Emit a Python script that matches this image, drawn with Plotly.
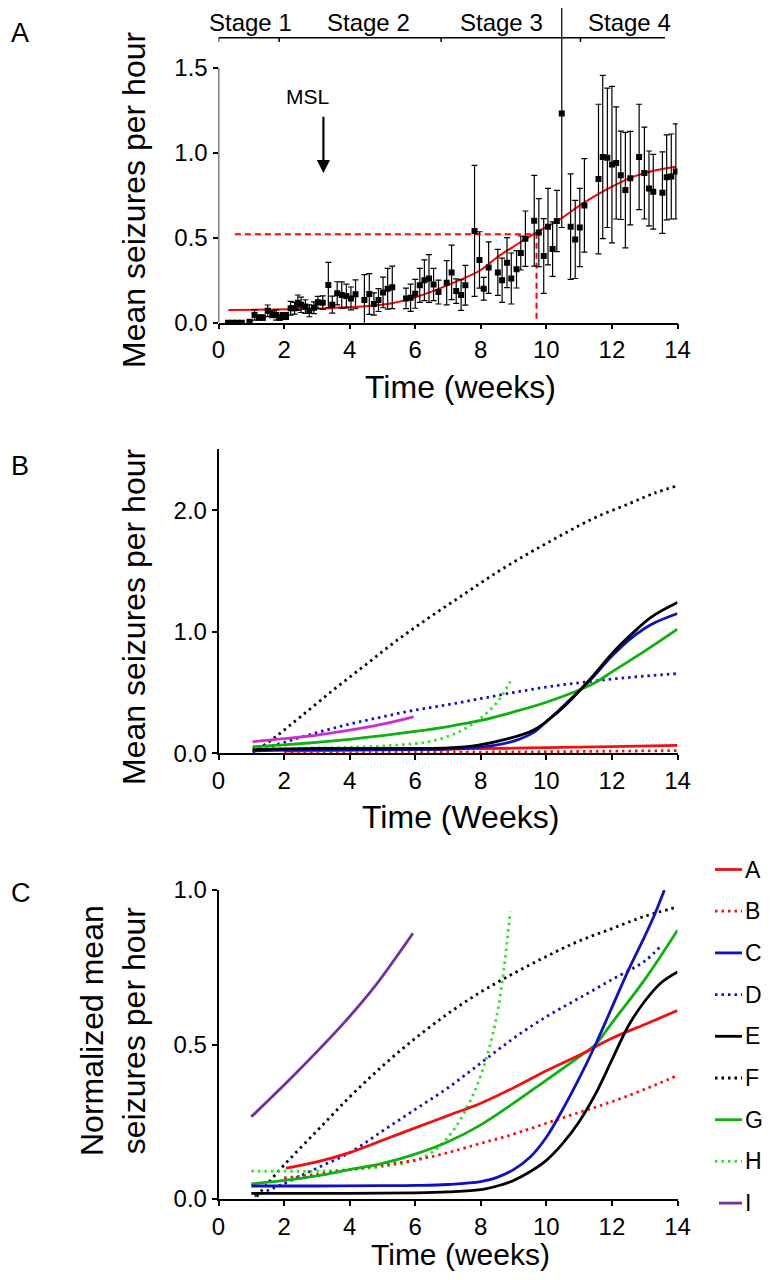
import plotly.graph_objects as go

OFF = 8                 # page offset of the figure inside the browser window
FW, FH = 772 - 2 * OFF, 1280 - 2 * OFF
FONT = "Liberation Sans, Arial, sans-serif"

# ---------------- Panel A data ----------------
a_weeks = [0.29, 0.43, 0.57, 0.71, 0.95, 1.10, 1.23, 1.35, 1.50, 1.64, 1.76, 1.87, 1.96, 2.06,
           2.20, 2.32, 2.42, 2.52, 2.65, 2.77, 2.91, 3.03, 3.18, 3.35, 3.47, 3.62, 3.76, 3.90,
           4.04, 4.18, 4.45, 4.60, 4.74, 4.88, 5.02, 5.16, 5.30, 5.72, 5.86, 6.00, 6.14, 6.28,
           6.42, 6.56, 6.71, 6.96, 7.11, 7.25, 7.40, 7.53, 7.81, 7.96, 8.09, 8.24, 8.52, 8.65,
           8.80, 8.93, 9.09, 9.22, 9.36, 9.63, 9.77, 9.92, 10.05, 10.19, 10.32, 10.47, 10.74,
           10.88, 11.02, 11.16, 11.59, 11.72, 11.86, 12.00, 12.13, 12.27, 12.41, 12.56, 12.83,
           12.99, 13.13, 13.26, 13.54, 13.67, 13.81, 13.95]
a_mean = [0, 0, 0, 0, 0.006, 0.045, 0.03, 0.03, 0.07, 0.05, 0.045, 0.03, 0.04, 0.04,
          0.085, 0.085, 0.118, 0.105, 0.095, 0.07, 0.088, 0.12, 0.118, 0.222, 0.106, 0.173, 0.163, 0.157,
          0.143, 0.167, 0.133, 0.169, 0.11, 0.133, 0.178, 0.2, 0.208, 0.143, 0.147, 0.17, 0.22, 0.25,
          0.26, 0.225, 0.18, 0.235, 0.296, 0.186, 0.163, 0.22, 0.54, 0.369, 0.2, 0.324, 0.296, 0.25,
          0.353, 0.26, 0.314, 0.41, 0.494, 0.6, 0.53, 0.392, 0.565, 0.433, 0.598, 1.23, 0.565,
          0.49, 0.56, 0.69, 0.845, 0.975, 0.97, 0.93, 0.94, 0.867, 0.78, 0.85, 0.975,
          0.88, 0.79, 0.77, 0.765, 0.855, 0.86, 0.89]
a_sem = [0, 0, 0, 0, 0.005, 0.03, 0.015, 0.015, 0.034, 0.02, 0.03, 0.015, 0.02, 0.02,
         0.04, 0.035, 0.045, 0.045, 0.04, 0.035, 0.035, 0.035, 0.04, 0.133, 0.05, 0.068, 0.077, 0.07,
         0.067, 0.085, 0.15, 0.12, 0.065, 0.067, 0.09, 0.12, 0.125, 0.06, 0.08, 0.085, 0.1, 0.12,
         0.14, 0.095, 0.07, 0.13, 0.16, 0.072, 0.09, 0.117, 0.385, 0.166, 0.067, 0.152, 0.135, 0.13,
         0.147, 0.15, 0.11, 0.1, 0.163, 0.267, 0.2, 0.22, 0.225, 0.16, 0.18, 0.67, 0.31,
         0.23, 0.23, 0.275, 0.44, 0.48, 0.41, 0.46, 0.33, 0.26, 0.34, 0.275, 0.31,
         0.27, 0.22, 0.22, 0.24, 0.25, 0.25, 0.28]
a_fit_weeks = [0.3, 1.5, 2.5, 3.5, 4.5, 5.3, 5.9, 6.6, 7.35, 8.0, 8.5, 9.1, 9.65, 10.35, 11.1,
               11.8, 12.6, 13.3, 13.95]
a_fit_value = [0.075, 0.077, 0.08, 0.087, 0.097, 0.115, 0.143, 0.19, 0.25, 0.31, 0.385, 0.46,
               0.525, 0.60, 0.70, 0.78, 0.855, 0.895, 0.918]
msl_level = 0.52
msl_week = 9.7
msl_start = 0.5
stage_names = ["Stage 1", "Stage 2", "Stage 3", "Stage 4"]
stage_bounds = [0, 1.85, 6.79, 11.04]
stage_end = 13.62
stage_label_x = [0.98, 4.58, 8.63, 12.53]

# ---------------- Panel B data ----------------
b_A_x = [2, 4, 6, 8, 10, 12, 14]
b_A_y = [0.018, 0.024, 0.031, 0.038, 0.046, 0.055, 0.065]
b_B_x = [2, 6, 10, 14]
b_B_y = [0.004, 0.008, 0.013, 0.022]
b_C_x = [1.04, 3, 5, 7, 8, 9, 9.6, 10, 10.6, 11.4, 12, 12.6, 13.2, 14]
b_C_y = [0.02, 0.03, 0.03, 0.035, 0.05, 0.1, 0.17, 0.26, 0.41, 0.62, 0.80, 0.95, 1.06, 1.15]
b_D_x = [1.04, 1.5, 2, 3, 4, 5, 6, 7, 8, 9, 10, 11, 12, 13, 14]
b_D_y = [0.01, 0.05, 0.09, 0.17, 0.24, 0.30, 0.355, 0.40, 0.45, 0.50, 0.545, 0.58, 0.61, 0.635, 0.655]
b_E_x = [1.04, 3, 5, 7, 7.93, 8.84, 9.6, 10.04, 10.64, 11.4, 12.0, 12.6, 13.2, 14.0]
b_E_y = [0.03, 0.04, 0.04, 0.045, 0.068, 0.12, 0.19, 0.27, 0.41, 0.63, 0.82, 0.98, 1.12, 1.24]
b_F_x = [1.2, 1.76, 2.5, 3.5, 4.5, 5.5, 6.5, 7.5, 8.5, 9.5, 10.5, 11.5, 12.5, 13.3, 14.0]
b_F_y = [0.03, 0.14, 0.30, 0.52, 0.73, 0.94, 1.13, 1.31, 1.49, 1.65, 1.80, 1.94, 2.05, 2.14, 2.2]
b_G_x = [1.04, 2, 3, 4, 5, 6, 7, 8, 9, 10, 11, 11.55, 12, 13, 14]
b_G_y = [0.055, 0.07, 0.09, 0.115, 0.145, 0.18, 0.22, 0.27, 0.34, 0.42, 0.52, 0.59, 0.67, 0.84, 1.02]
b_H_x = [1.04, 2, 3, 4, 5, 6, 6.5, 7, 7.5, 8, 8.5, 8.9]
b_H_y = [0.04, 0.04, 0.045, 0.05, 0.06, 0.08, 0.1, 0.14, 0.2, 0.29, 0.42, 0.59]
b_I_x = [1.04, 2, 3, 4, 5, 5.95]
b_I_y = [0.095, 0.12, 0.15, 0.19, 0.24, 0.3]

# ---------------- Panel C data ----------------
c_A_x = [2.06, 3, 4, 5, 6, 7, 8, 9, 10, 11, 12, 13, 14]
c_A_y = [0.10, 0.12, 0.15, 0.19, 0.23, 0.27, 0.31, 0.36, 0.415, 0.465, 0.52, 0.565, 0.61]
c_B_x = [2, 3, 4, 5, 6, 7, 8, 9, 10, 11, 12, 13, 14]
c_B_y = [0.068, 0.08, 0.095, 0.11, 0.126, 0.15, 0.18, 0.21, 0.245, 0.28, 0.315, 0.355, 0.40]
c_C_x = [1.0, 3, 5, 6, 7, 8, 8.5, 9, 9.5, 10, 10.5, 11, 11.5, 12, 12.5, 13, 13.3, 13.6]
c_C_y = [0.042, 0.042, 0.043, 0.044, 0.047, 0.056, 0.07, 0.095, 0.135, 0.2, 0.29, 0.39, 0.5, 0.62,
         0.74, 0.85, 0.92, 1.0]
c_D_x = [1.1, 2, 3, 4, 5, 6, 7, 8, 9, 10, 11, 12, 13, 13.5]
c_D_y = [0.01, 0.05, 0.1, 0.15, 0.22, 0.29, 0.36, 0.44, 0.52, 0.59, 0.65, 0.71, 0.77, 0.82]
c_E_x = [1.0, 4, 6, 7, 8, 8.5, 9, 9.5, 10, 10.5, 11, 11.5, 12, 12.5, 13, 13.5, 14]
c_E_y = [0.018, 0.018, 0.02, 0.023, 0.03, 0.042, 0.06, 0.088, 0.125, 0.18, 0.25, 0.34, 0.45, 0.56,
         0.64, 0.70, 0.735]
c_F_x = [1.16, 1.5, 2, 3, 4, 5, 6, 7, 8, 9, 10, 11, 12, 13, 14]
c_F_y = [0.008, 0.05, 0.11, 0.22, 0.33, 0.43, 0.52, 0.6, 0.67, 0.73, 0.785, 0.835, 0.875, 0.915, 0.945]
c_G_x = [1.0, 2, 3, 4, 5, 6, 7, 8, 9, 10, 11, 11.5, 12, 13, 14]
c_G_y = [0.049, 0.06, 0.075, 0.095, 0.115, 0.145, 0.185, 0.24, 0.31, 0.385, 0.46, 0.5, 0.57, 0.71, 0.87]
c_H_x = [1.0, 2, 3, 4, 5, 6, 6.5, 7, 7.5, 8, 8.5, 8.9]
c_H_y = [0.09, 0.09, 0.09, 0.095, 0.105, 0.125, 0.15, 0.2, 0.28, 0.4, 0.6, 0.93]
c_I_x = [1.0, 2.36, 3.86, 4.76, 5.93]
c_I_y = [0.266, 0.407, 0.574, 0.687, 0.86]

legend_names = ["A", "B", "C", "D", "E", "F", "G", "H", "I"]

RED = "#f01010"
BLUE = "#1010c0"
GREEN = "#10b010"
LGREEN = "#30e030"
PURPLE = "#7030a0"
MAGENTA = "#cc30cc"
BLACK = "#000000"
DOT = "2.5px,4px"

styles_B = {
    "A": (RED, "solid"), "B": (RED, DOT), "C": (BLUE, "solid"), "D": (BLUE, DOT),
    "E": (BLACK, "solid"), "F": (BLACK, DOT), "G": (GREEN, "solid"), "H": (LGREEN, DOT),
    "I": (MAGENTA, "solid"),
}
styles_C = dict(styles_B)
styles_C["I"] = (PURPLE, "solid")

def px_x(p):
    return (p - OFF) / FW

def px_y(p):
    return 1 - (p - OFF) / FH

fig = go.Figure()

# Panel A
fig.add_trace(go.Scatter(
    x=a_fit_weeks, y=a_fit_value, mode="lines", line=dict(color="#ff0000", width=2, shape="spline"),
    xaxis="x", yaxis="y", showlegend=False))
fig.add_trace(go.Scatter(
    x=[msl_start, msl_week, msl_week], y=[msl_level, msl_level, 0], mode="lines",
    line=dict(color="#ff0000", width=2, dash="6px,4px"), xaxis="x", yaxis="y", showlegend=False))
fig.add_trace(go.Scatter(
    x=a_weeks, y=a_mean, mode="markers",
    marker=dict(symbol="square", size=6, color="black"),
    error_y=dict(type="data", array=a_sem, visible=True, color="black", thickness=1.2, width=3),
    xaxis="x", yaxis="y", showlegend=False))

# Panel B
b_series = {"A": (b_A_x, b_A_y), "B": (b_B_x, b_B_y), "C": (b_C_x, b_C_y), "D": (b_D_x, b_D_y),
            "E": (b_E_x, b_E_y), "F": (b_F_x, b_F_y), "G": (b_G_x, b_G_y), "H": (b_H_x, b_H_y),
            "I": (b_I_x, b_I_y)}
order_B = ["F", "D", "H", "I", "G", "A", "B", "C", "E"]
for k in order_B:
    xs, ys = b_series[k]
    col, dash = styles_B[k]
    fig.add_trace(go.Scatter(x=xs, y=ys, mode="lines",
                             line=dict(color=col, width=2.8, dash=dash, shape="spline"),
                             xaxis="x2", yaxis="y2", showlegend=False))

# Panel C
c_series = {"A": (c_A_x, c_A_y), "B": (c_B_x, c_B_y), "C": (c_C_x, c_C_y), "D": (c_D_x, c_D_y),
            "E": (c_E_x, c_E_y), "F": (c_F_x, c_F_y), "G": (c_G_x, c_G_y), "H": (c_H_x, c_H_y),
            "I": (c_I_x, c_I_y)}
order_C = ["F", "D", "H", "B", "I", "G", "A", "E", "C"]
for k in order_C:
    xs, ys = c_series[k]
    col, dash = styles_C[k]
    fig.add_trace(go.Scatter(x=xs, y=ys, mode="lines",
                             line=dict(color=col, width=2.8, dash=dash, shape="spline"),
                             xaxis="x3", yaxis="y3", showlegend=False))

xdom = [px_x(218.5), px_x(677.5)]
axis_common = dict(showline=True, linecolor="black", linewidth=1.5, ticks="outside", ticklen=5,
                   tickwidth=1.5, tickcolor="black", showgrid=False, zeroline=False,
                   automargin=False,
                   tickfont=dict(family=FONT, size=24, color="black"))
xticks = dict(tickmode="array", tickvals=list(range(0, 15, 2)), ticktext=[str(v) for v in range(0, 15, 2)])

shapes = []
annotations = []

A_ZERO = 322.7        # reference pixel row of y=0 in panel A
A_PX_PER_UNIT = 170.0
a_top = (A_ZERO - OFF) / A_PX_PER_UNIT

# Panel A y axis line (only up to 1.5)
shapes.append(dict(type="line", xref="x", yref="y", x0=0, x1=0, y0=0, y1=1.5,
                   line=dict(color="black", width=1.5)))
# stage bar
stage_y = 1.676
shapes.append(dict(type="line", xref="x", yref="y", x0=stage_bounds[0], x1=stage_end,
                   y0=stage_y, y1=stage_y, line=dict(color="black", width=1.5)))
for b in stage_bounds:
    shapes.append(dict(type="line", xref="x", yref="y", x0=b, x1=b, y0=stage_y, y1=stage_y - 0.025,
                       line=dict(color="black", width=1.5)))
for name, sx in zip(stage_names, stage_label_x):
    annotations.append(dict(x=sx, y=1.765, xref="x", yref="y", text=name, showarrow=False,
                            xanchor="center", yanchor="middle",
                            font=dict(family=FONT, size=24, color="black")))
# MSL arrow
annotations.append(dict(x=2.71, y=1.33, xref="x", yref="y", text="MSL", showarrow=False,
                        xanchor="center", yanchor="middle",
                        font=dict(family=FONT, size=21, color="black")))
annotations.append(dict(x=3.2, y=0.88, ax=3.2, ay=1.22, xref="x", yref="y", axref="x", ayref="y",
                        text="", showarrow=True, arrowhead=2, arrowsize=1.2, arrowwidth=2.2,
                        arrowcolor="black"))

# axis titles
def title(text, xp, yp, angle=0, size=32, xanchor="center"):
    annotations.append(dict(x=px_x(xp), y=px_y(yp), xref="paper", yref="paper", text=text,
                            showarrow=False, textangle=angle, xanchor=xanchor, yanchor="middle",
                            font=dict(family=FONT, size=size, color="black")))

title("Time (weeks)", 460, 387)
title("Time (Weeks)", 460, 817)
title("Time (weeks)", 460, 1254, 0, 30)
title("Mean seizures per hour", 134, 200, -90)
title("Mean seizures per hour", 134, 617, -90)
title("Normalized mean<br>seizures per hour", 113, 1031, -90)
title("A", OFF + 1, 33, 0, 27, "left")
title("B", OFF + 1, 466, 0, 27, "left")
title("C", OFF + 1, 893, 0, 27, "left")

# legend for panel C
leg_y0 = 869.5
leg_dy = 41.7
for i, k in enumerate(legend_names):
    col, dash = styles_C[k]
    yy = px_y(leg_y0 + i * leg_dy)
    x0 = 715 if k != "I" else 719
    shapes.append(dict(type="line", xref="paper", yref="paper", x0=px_x(x0), x1=px_x(742),
                       y0=yy, y1=yy, line=dict(color=col, width=2.8, dash=dash)))
    annotations.append(dict(x=px_x(742.5), y=yy, xref="paper", yref="paper", text=k, showarrow=False,
                            xanchor="left", yanchor="middle",
                            font=dict(family=FONT, size=23, color="black")))

fig.update_layout(
    width=FW, height=FH, margin=dict(l=0, r=0, t=0, b=0, pad=0, autoexpand=False),
    paper_bgcolor="white", plot_bgcolor="white",
    font=dict(family=FONT, color="black"),
    xaxis=dict(domain=xdom, range=[0, 14], anchor="y", **xticks, **axis_common),
    yaxis=dict(domain=[px_y(A_ZERO), 1.0], range=[0, a_top], anchor="x",
               tickmode="array", tickvals=[0, 0.5, 1.0, 1.5], ticktext=["0.0", "0.5", "1.0", "1.5"],
               **{**axis_common, "showline": False}),
    xaxis2=dict(domain=xdom, range=[0, 14], anchor="y2", **xticks, **axis_common),
    yaxis2=dict(domain=[px_y(753.3), px_y(449.3)], range=[0, 2.5], anchor="x2",
                tickmode="array", tickvals=[0, 1, 2], ticktext=["0.0", "1.0", "2.0"], **axis_common),
    xaxis3=dict(domain=xdom, range=[0, 14], anchor="y3", **xticks, **axis_common),
    yaxis3=dict(domain=[px_y(1199), px_y(890)], range=[0, 1], anchor="x3",
                tickmode="array", tickvals=[0, 0.5, 1.0], ticktext=["0.0", "0.5", "1.0"], **axis_common),
    shapes=shapes, annotations=annotations,
)

fig.write_html("out.html")
